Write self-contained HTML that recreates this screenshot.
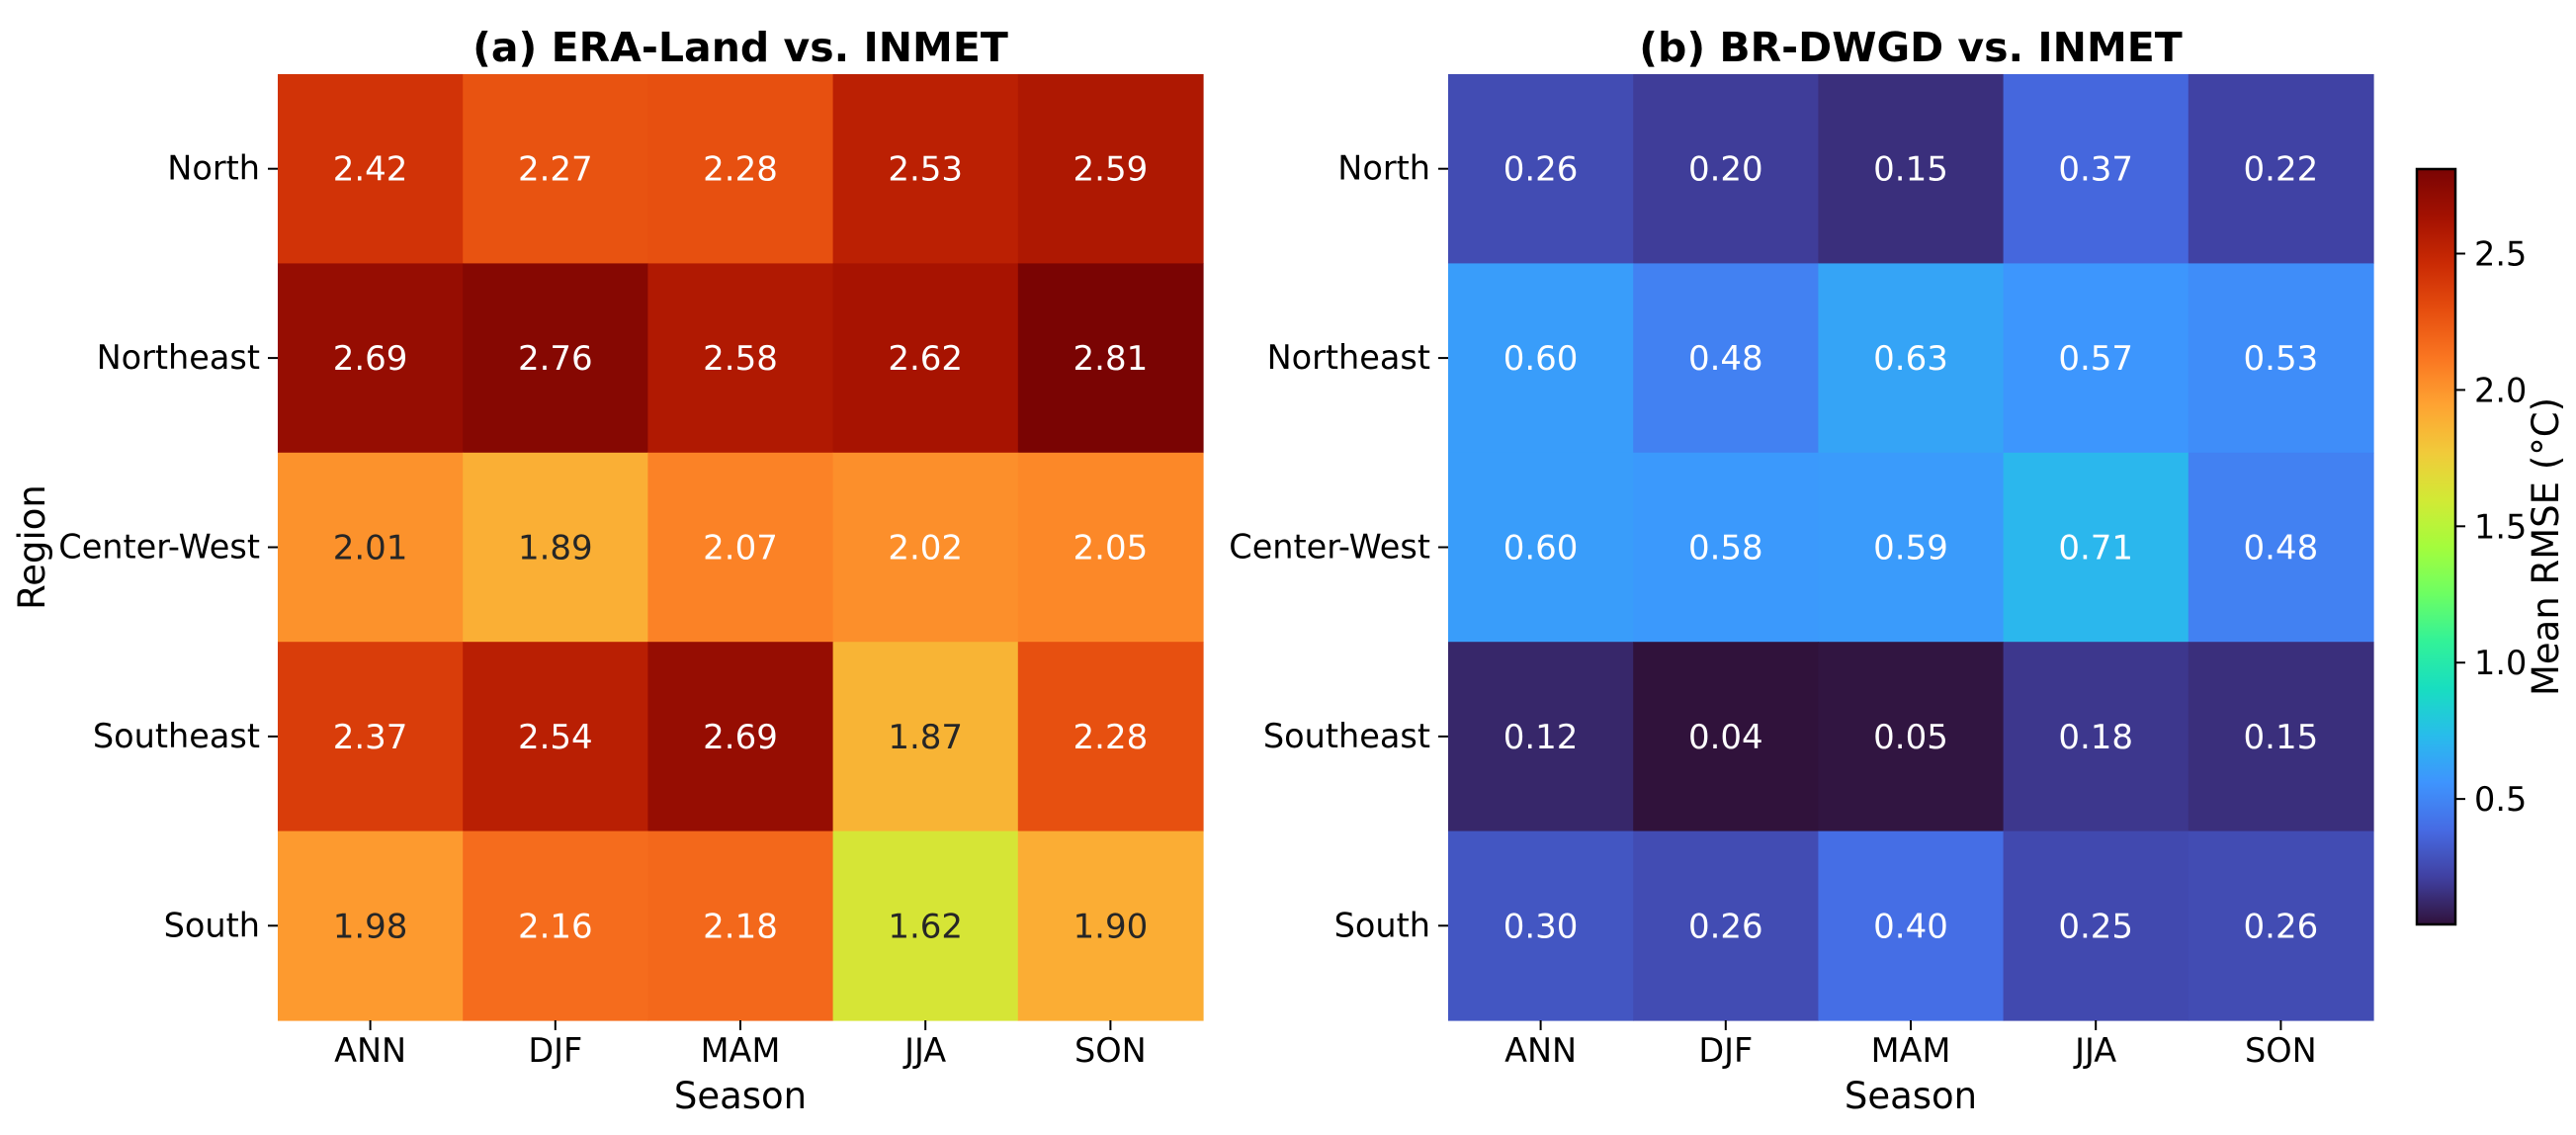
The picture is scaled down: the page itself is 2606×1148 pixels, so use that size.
<!DOCTYPE html>
<html><head><meta charset="utf-8">
<style>
html,body{margin:0;padding:0;background:#fff;}
svg{display:block;font-family:"DejaVu Sans","Liberation Sans",sans-serif;}
</style></head>
<body>
<svg id="fig" width="2606" height="1148" viewBox="0 0 2606 1148" xmlns="http://www.w3.org/2000/svg">
<defs><linearGradient id="cbgrad" x1="0" y1="1" x2="0" y2="0"></linearGradient></defs>
</svg>
<script>
const seasons = ["ANN","DJF","MAM","JJA","SON"];
const regions = ["North","Northeast","Center-West","Southeast","South"];
const eraValues = [
  [2.42,2.27,2.28,2.53,2.59],
  [2.69,2.76,2.58,2.62,2.81],
  [2.01,1.89,2.07,2.02,2.05],
  [2.37,2.54,2.69,1.87,2.28],
  [1.98,2.16,2.18,1.62,1.90]
];
const brValues = [
  [0.26,0.20,0.15,0.37,0.22],
  [0.60,0.48,0.63,0.57,0.53],
  [0.60,0.58,0.59,0.71,0.48],
  [0.12,0.04,0.05,0.18,0.15],
  [0.30,0.26,0.40,0.25,0.26]
];
const cbTicks = [0.5,1.0,1.5,2.0,2.5];
const cbTickLabels = ["0.5","1.0","1.5","2.0","2.5"];
const vmin = 0.04, vmax = 2.81;

const NS = "http://www.w3.org/2000/svg";
const svg = document.getElementById('fig');
function el(tag, attrs, parent){
  const e = document.createElementNS(NS, tag);
  for (const k in attrs) e.setAttribute(k, attrs[k]);
  (parent||svg).appendChild(e);
  return e;
}
const TURBO = [[48,18,59],[64,64,161],[70,107,227],[62,148,254],[40,188,235],[24,222,192],[50,242,152],[109,254,98],[164,252,60],[210,233,53],[241,202,58],[254,163,50],[250,118,33],[230,78,15],[202,42,4],[163,17,1],[122,4,3]];
function turbo(x){
  x = Math.max(0, Math.min(1, x));
  const p = x*16, i = Math.min(15, Math.floor(p)), f = p - i;
  return [0,1,2].map(k => (TURBO[i][k]*(1-f) + TURBO[i+1][k]*f)/255);
}
function rgbStr(c){return 'rgb('+c.map(v=>Math.round(v*255)).join(',')+')';}
function lum(c){
  const l = c.map(v=> v<=0.03928 ? v/12.92 : Math.pow((v+0.055)/1.055,2.4));
  return 0.2126*l[0]+0.7152*l[1]+0.0722*l[2];
}
const norm = v => (v - vmin)/(vmax - vmin);

const TOP = 75, CH = 191.4, CW = 187.2;
function panel(x0, values, title, showYLabel, key){
  const g = el('g', {});
  
  
  const xs = i => x0 + i*CW;
  const ys = j => TOP + j*CH;
  values.forEach((row,j)=>{
    row.forEach((v,i)=>{
      const c = turbo(norm(v));
      const r = el('rect', {x:xs(i), y:ys(j), width:CW+0.6, height:CH+0.6, fill:rgbStr(c)}, g);
      
      
      const t = el('text', {x:xs(i)+CW/2, y:ys(j)+CH/2+12, 'text-anchor':'middle', 'font-size':34, fill: lum(c) > 0.408 ? '#262626' : '#ffffff'}, g);
      t.textContent = v.toFixed(2);
      
      
    });
  });
  const W = CW*5, H = CH*5;
  seasons.forEach((s,i)=>{
    const cx = xs(i)+CW/2;
    el('line', {x1:cx, x2:cx, y1:TOP+H, y2:TOP+H+10, stroke:'#000', 'stroke-width':2}, g);
    const t = el('text', {x:cx, y:1074, 'text-anchor':'middle', 'font-size':33.5}, g);
    t.textContent = s;
    
    
  });
  regions.forEach((r,j)=>{
    const cy = ys(j)+CH/2;
    el('line', {x1:x0-10, x2:x0, y1:cy, y2:cy, stroke:'#000', 'stroke-width':2}, g);
    const t = el('text', {x:x0-18, y:cy+11, 'text-anchor':'end', 'font-size':33.5}, g);
    t.textContent = r;
    
    
  });
  const tt = el('text', {x:x0+W/2, y:62, 'text-anchor':'middle', 'font-size':41, 'font-weight':'bold'}, g);
  tt.textContent = title;
  
  
  const xl = el('text', {x:x0+W/2, y:1121, 'text-anchor':'middle', 'font-size':37}, g);
  xl.textContent = 'Season';
  
  
  if (showYLabel){
    const yl = el('text', {x:0, y:0, 'text-anchor':'middle', 'font-size':37, transform:'translate(45,'+(TOP+H/2)+') rotate(-90)'}, g);
    yl.textContent = 'Region';
    
    
  }
}
panel(281, eraValues, '(a) ERA-Land vs. INMET', true, 'era-land');
panel(1465, brValues, '(b) BR-DWGD vs. INMET', false, 'br-dwgd');

// colorbar
const grad = document.getElementById('cbgrad');
for (let k=0;k<=64;k++){
  const s = document.createElementNS(NS,'stop');
  s.setAttribute('offset', (k/64).toFixed(4));
  s.setAttribute('stop-color', rgbStr(turbo(k/64)));
  grad.appendChild(s);
}
const CBX = 2445, CBW = 39, CBT = 171, CBB = 935;
const cy = v => CBB - (v - vmin)/(vmax - vmin)*(CBB - CBT);
const cb = el('g', {});


el('rect', {x:CBX, y:CBT, width:CBW, height:CBB-CBT, fill:'url(#cbgrad)', stroke:'#000', 'stroke-width':2.5}, cb);
cbTicks.forEach((v,k)=>{
  const y = cy(v);
  el('line', {x1:CBX+CBW, x2:CBX+CBW+10, y1:y, y2:y, stroke:'#000', 'stroke-width':2}, cb);
  const t = el('text', {x:2503, y:y+12, 'font-size':33.5}, cb);
  t.textContent = cbTickLabels[k];
  
  
});
const cl = el('text', {x:0, y:0, 'text-anchor':'middle', 'font-size':37, transform:'translate(2588,'+((CBT+CBB)/2)+') rotate(-90)'}, cb);
cl.textContent = 'Mean RMSE (°C)';


</script>
</body></html>
